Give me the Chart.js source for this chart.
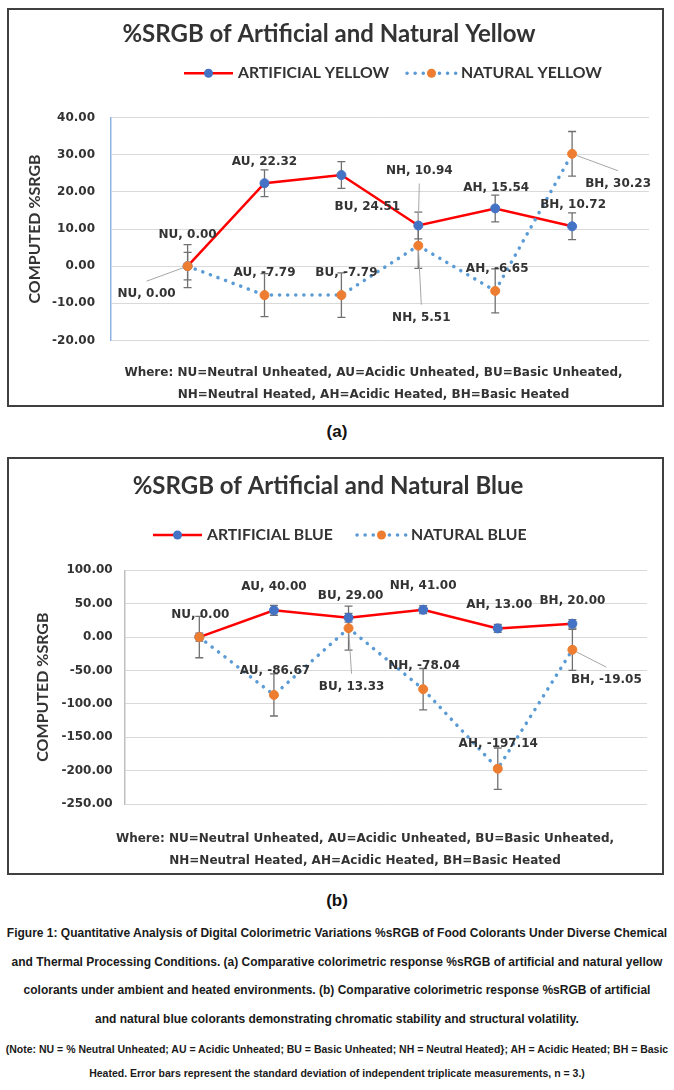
<!DOCTYPE html>
<html>
<head>
<meta charset="utf-8">
<script src="https://cdn.jsdelivr.net/npm/chart.js@4.4.0/dist/chart.umd.min.js"></script>
<style>
  body { margin: 0; background: #fff; }
  #page { position: relative; width: 674px; height: 1090px; }
  .box { position: absolute; left: 7px; width: 653px; border: 2px solid #404040; }
  .sub { position: absolute; left: 0; width: 674px; text-align: center;
         font: bold 17px "Liberation Sans", sans-serif; color: #111; }
  #caption, #note { position: absolute; left: 0; width: 674px; text-align: center; white-space: nowrap;
         font-family: "Liberation Sans", sans-serif; font-weight: bold; color: #1a1a1a; }
  #caption { top: 919px; font-size: 12px; line-height: 28.7px; }
  #note { top: 1037px; font-size: 10.5px; line-height: 24px; }
</style>
</head>
<body>
<div id="page">
  <div class="box" style="top:8px; height:395px;"><canvas id="chartA"></canvas></div>
  <div class="sub" style="top:420px; line-height:24px;">(a)</div>
  <div class="box" style="top:457px; height:414px;"><canvas id="chartB"></canvas></div>
  <div class="sub" style="top:889px; line-height:24px;">(b)</div>
  <div id="caption">Figure 1: Quantitative Analysis of Digital Colorimetric Variations %sRGB of Food Colorants Under Diverse Chemical<br>and Thermal Processing Conditions. (a) Comparative colorimetric response %sRGB of artificial and natural yellow<br>colorants under ambient and heated environments. (b) Comparative colorimetric response %sRGB of artificial<br>and natural blue colorants demonstrating chromatic stability and structural volatility.</div>
  <div id="note">(Note: NU = % Neutral Unheated; AU = Acidic Unheated; BU = Basic Unheated; NH = Neutral Heated}; AH = Acidic Heated; BH = Basic<br>Heated. Error bars represent the standard deviation of independent triplicate measurements, n = 3.)</div>
</div>
<script>
// values
const categories = ['NU', 'AU', 'BU', 'NH', 'AH', 'BH'];

const artificialYellow = [0.00, 22.32, 24.51, 10.94, 15.54, 10.72];
const naturalYellow = [0.00, -7.79, -7.79, 5.51, -6.65, 30.23];
const artificialYellowSD = [3.7, 3.6, 3.6, 3.6, 3.6, 3.6];
const naturalYellowSD = [5.8, 5.8, 6.0, 6.1, 5.9, 6.0];
const yellowTicks = [40, 30, 20, 10, 0, -10, -20];

const artificialBlue = [0.00, 40.00, 29.00, 41.00, 13.00, 20.00];
const naturalBlue = [0.00, -86.67, 13.33, -78.04, -197.14, -19.05];
const artificialBlueSD = [6, 7.3, 6.5, 6, 6, 6.2];
const naturalBlueSD = [31, 31.5, 33, 31, 31, 30.8];
const blueTicks = [100, 50, 0, -50, -100, -150, -200, -250];

const noteLines = [
    'Where: NU=Neutral Unheated, AU=Acidic Unheated, BU=Basic Unheated,',
    'NH=Neutral Heated, AH=Acidic Heated, BH=Basic Heated'
];

const TEXT = '#333333';

// error bars (drawn under the lines and markers)
function errorBarPlugin() {
    return {
        id: 'errorBars',
        beforeDatasetsDraw(chart) {
            const { ctx, scales: { x, y } } = chart;
            ctx.save();
            ctx.strokeStyle = '#707070';
            ctx.lineWidth = 1.3;
            chart.data.datasets.forEach(ds => {
                ds.data.forEach((p, j) => {
                    const e = ds.errors[j];
                    const px = x.getPixelForValue(p.x);
                    const top = y.getPixelForValue(p.y + e);
                    const bot = y.getPixelForValue(p.y - e);
                    ctx.beginPath();
                    ctx.moveTo(px, top); ctx.lineTo(px, bot);
                    ctx.moveTo(px - 4, top); ctx.lineTo(px + 4, top);
                    ctx.moveTo(px - 4, bot); ctx.lineTo(px + 4, bot);
                    ctx.stroke();
                });
            });
            ctx.restore();
        }
    };
}

// "NU, 0.00" style labels, placed like the excel ones, with leader lines where they were dragged away
function pointLabelPlugin(placement) {
    return {
        id: 'pointLabels',
        afterDatasetsDraw(chart) {
            const { ctx } = chart;
            ctx.save();
            ctx.font = 'bold 12px "DejaVu Sans"';
            ctx.textAlign = 'center';
            ctx.textBaseline = 'middle';
            chart.data.datasets.forEach((ds, i) => {
                const meta = chart.getDatasetMeta(i);
                meta.data.forEach((pt, j) => {
                    const pl = placement[i][j];
                    if (!pl) return;
                    const [dx, dy, leader] = pl;
                    const lx = pt.x + dx, ly = pt.y + dy;
                    if (leader) {
                        const ex = lx, ey = ly + (dy > 0 ? -13 : 13);
                        const len = Math.hypot(ex - pt.x, ey - pt.y);
                        const sx = pt.x + (ex - pt.x) / len * 5, sy = pt.y + (ey - pt.y) / len * 5;
                        ctx.strokeStyle = '#a6a6a6';
                        ctx.lineWidth = 1;
                        ctx.beginPath();
                        ctx.moveTo(sx, sy);
                        ctx.lineTo(ex, ey);
                        ctx.stroke();
                    }
                    ctx.fillStyle = TEXT;
                    ctx.fillText(categories[j] + ', ' + ds.data[j].y.toFixed(2), lx, ly);
                });
            });
            ctx.restore();
        }
    };
}

// legend with a line sample and the marker on it
function lineLegendPlugin(y, xs) {
    return {
        id: 'lineLegend',
        afterDraw(chart) {
            const { ctx } = chart;
            chart.data.datasets.forEach((ds, i) => {
                const x0 = xs[i], len = 49;
                ctx.save();
                ctx.strokeStyle = ds.borderColor;
                ctx.lineWidth = ds.borderWidth;
                ctx.lineCap = ds.borderCapStyle || 'butt';
                ctx.setLineDash(ds.borderDash || []);
                ctx.beginPath();
                ctx.moveTo(x0, y);
                ctx.lineTo(x0 + len, y);
                ctx.stroke();
                ctx.setLineDash([]);
                ctx.fillStyle = ds.pointBackgroundColor;
                ctx.beginPath();
                ctx.arc(x0 + len / 2, y, ds.pointRadius, 0, Math.PI * 2);
                ctx.fill();
                ctx.fillStyle = TEXT;
                ctx.font = 'bold 15.8px Lato';
                ctx.textBaseline = 'middle';
                ctx.fillText(ds.label, x0 + len + 5, y);
                ctx.restore();
            });
        }
    };
}

// the "Where: ..." lines under the plot
function notePlugin(x, y, lh) {
    return {
        id: 'note',
        afterDraw(chart) {
            const { ctx } = chart;
            ctx.save();
            ctx.font = 'bold 12px "DejaVu Sans"';
            ctx.fillStyle = TEXT;
            ctx.textAlign = 'center';
            ctx.textBaseline = 'middle';
            noteLines.forEach((t, k) => ctx.fillText(t, x, y + k * lh));
            ctx.restore();
        }
    };
}

function makeChart(c) {
    const pts = arr => arr.map((v, j) => ({ x: j + 1, y: v }));
    new Chart(document.getElementById(c.canvas), {
        type: 'line',
        data: {
            datasets: [
                {
                    label: c.names[0], data: pts(c.values[0]), errors: c.sd[0], order: 1,
                    borderColor: '#ff0000', borderWidth: 2.5,
                    pointRadius: 4.5, pointBackgroundColor: '#4472c4', pointBorderColor: '#4472c4', pointBorderWidth: 1
                },
                {
                    label: c.names[1], data: pts(c.values[1]), errors: c.sd[1], order: 0,
                    borderColor: '#5b9bd5', borderWidth: 3.5, borderDash: [0.1, 8], borderCapStyle: 'round',
                    pointRadius: 4.5, pointBackgroundColor: '#ed7d31', pointBorderColor: '#ed7d31', pointBorderWidth: 1
                }
            ]
        },
        options: {
            responsive: true,
            maintainAspectRatio: false,
            animation: false,
            events: [],
            layout: { padding: { left: 0, top: 0, right: c.padRight, bottom: c.padBottom } },
            plugins: {
                legend: { display: false },
                tooltip: { enabled: false },
                title: {
                    display: true, text: c.title, color: TEXT,
                    font: { family: 'Lato', size: 24, weight: 'bold' },
                    padding: { top: c.titleTop, bottom: c.titleBottom }
                }
            },
            scales: {
                x: { type: 'linear', min: 0, max: categories.length + 1, display: false },
                y: {
                    min: Math.min(...c.ticks), max: Math.max(...c.ticks),
                    afterFit: s => { s.width = c.yWidth; },
                    ticks: {
                        stepSize: c.ticks[0] - c.ticks[1], padding: c.tickPad, color: TEXT,
                        font: { family: 'DejaVu Sans', size: 12, weight: 'bold' },
                        callback: v => v.toFixed(2)
                    },
                    grid: { color: '#d9d9d9', drawTicks: false },
                    border: { color: c.axisColor, width: 1.5 },
                    title: {
                        display: true, text: 'COMPUTED %SRGB', color: TEXT,
                        font: { family: 'Lato', size: 16, weight: 'bold' },
                        padding: { top: c.yTitlePad, bottom: 0 }
                    }
                }
            }
        },
        plugins: [errorBarPlugin(), pointLabelPlugin(c.placement),
                  lineLegendPlugin(c.legendY, c.legendX), notePlugin(c.noteX, c.noteY, c.noteLH)]
    });
}

makeChart({
    canvas: 'chartA',
    title: '%SRGB of Artificial and Natural Yellow',
    names: ['ARTIFICIAL YELLOW', 'NATURAL YELLOW'],
    values: [artificialYellow, naturalYellow],
    sd: [artificialYellowSD, naturalYellowSD],
    ticks: yellowTicks,
    axisColor: '#8eb4e3',
    titleTop: 9.6, titleBottom: 69.1, padRight: 13, padBottom: 64.5,
    yWidth: 101.7, tickPad: 15.7, yTitlePad: 16.4,
    legendY: 63.3, legendX: [175, 398],
    noteX: 364.5, noteY: 363, noteLH: 21.5,
    placement: [
        [[0, -31], [0, -21], [26, 32], [1, -55, true], [1, -21], [1, -21]],
        [[-41, 28, true], [0, -22], [5, -22], [3, 72, true], [2, -22], [46, 30, true]]
    ]
});

makeChart({
    canvas: 'chartB',
    title: '%SRGB of Artificial and Natural Blue',
    names: ['ARTIFICIAL BLUE', 'NATURAL BLUE'],
    values: [artificialBlue, naturalBlue],
    sd: [artificialBlueSD, naturalBlueSD],
    ticks: blueTicks,
    axisColor: '#bfbfbf',
    titleTop: 13.1, titleBottom: 69.4, padRight: 15, padBottom: 69,
    yWidth: 115.7, tickPad: 12, yTitlePad: 24,
    legendY: 76, legendX: [144, 348],
    noteX: 356, noteY: 380.3, noteLH: 21.7,
    placement: [
        [[1, -22], [0, -23], [2, -22], [0, -24], [1.5, -24], [0, -23]],
        [null, [1, -24], [3, 58.5, true], [1, -23], [0.5, -24.4], [34, 30.4, true]]
    ]
});
</script>
</body>
</html>
